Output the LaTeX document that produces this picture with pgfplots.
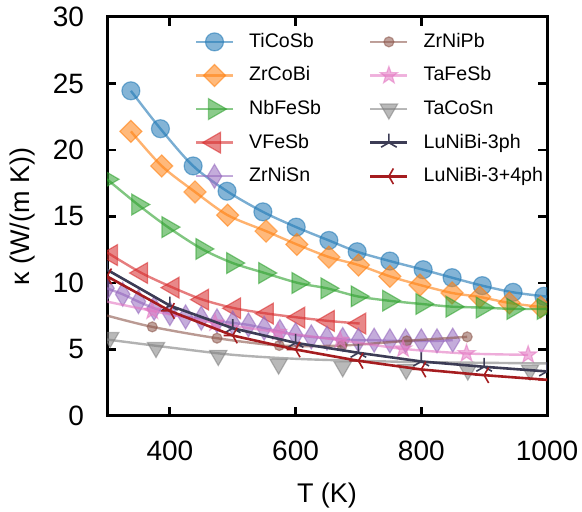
\documentclass[border=0pt]{standalone}
\usepackage{pgfplots}
\pgfplotsset{compat=1.18}
\usepackage{fontspec}
\setmainfont{Liberation Sans}
\definecolor{cB}{HTML}{1F77B4}
\definecolor{cO}{HTML}{FF7F0E}
\definecolor{cG}{HTML}{2CA02C}
\definecolor{cR}{HTML}{D62728}
\definecolor{cP}{HTML}{9467BD}
\definecolor{cBr}{HTML}{8C564B}
\definecolor{cPk}{HTML}{E377C2}
\definecolor{cGy}{HTML}{7F7F7F}
\definecolor{cD}{HTML}{3C3C55}
\definecolor{cDR}{HTML}{A51C1F}
\pgfdeclareplotmark{fstar}{%
 \pgfpathmoveto{\pgfpointpolar{90}{\pgfplotmarksize}}%
 \pgfpathlineto{\pgfpointpolar{126}{0.4\pgfplotmarksize}}%
 \pgfpathlineto{\pgfpointpolar{162}{\pgfplotmarksize}}%
 \pgfpathlineto{\pgfpointpolar{198}{0.4\pgfplotmarksize}}%
 \pgfpathlineto{\pgfpointpolar{234}{\pgfplotmarksize}}%
 \pgfpathlineto{\pgfpointpolar{270}{0.4\pgfplotmarksize}}%
 \pgfpathlineto{\pgfpointpolar{306}{\pgfplotmarksize}}%
 \pgfpathlineto{\pgfpointpolar{342}{0.4\pgfplotmarksize}}%
 \pgfpathlineto{\pgfpointpolar{18}{\pgfplotmarksize}}%
 \pgfpathlineto{\pgfpointpolar{54}{0.4\pgfplotmarksize}}%
 \pgfpathclose
 \pgfusepathqfillstroke}
\pgfplotsset{
  ln/.style={draw=#1, line width=1.2pt, draw opacity=0.6, smooth, no markers, forget plot},
  mk/.style={draw=#1, fill=#1, opacity=0.55, only marks, forget plot},
  lg/.style={draw=#1, fill=#1, opacity=0.55, line width=1.2pt},
}
\begin{document}
\begin{tikzpicture}
\useasboundingbox (-53.5pt,-48pt) rectangle (237.5pt,208pt);
\begin{axis}[
 scale only axis, width=220pt, height=199.5pt,
 xmin=300, xmax=1000, ymin=0, ymax=30,
 xtick={400,600,800,1000}, ytick={0,5,...,30},
 tick align=inside, major tick length=4.5pt,
 every tick/.style={black, line width=1.4pt},
 axis line style={line width=1.5pt},
 tick label style={font=\fontsize{14}{16}\selectfont},
 /pgf/number format/assume math mode=true,
 /pgf/number format/1000 sep={},
 xticklabel style={yshift=-9pt},
 yticklabel style={xshift=-8pt},
 xlabel={T (K)}, ylabel={κ (W/(m K))},
 xlabel style={font=\fontsize{13.5}{16}\selectfont, at={(axis description cs:0.5,-0.2)}, anchor=center},
 ylabel style={font=\fontsize{13.5}{16}\selectfont, at={(axis description cs:-0.193,0.5)}, anchor=center},
 clip marker paths=true,
 legend columns=2,
 legend cell align=left,
 legend image code/.code={\draw[mark repeat=2,mark phase=2] plot coordinates {(0pt,0pt) (9.25pt,0pt) (18.5pt,0pt)};},
 legend style={draw=none, fill=none, at={(rel axis cs:0.185,0.98)}, anchor=north west,
   font=\fontsize{9.8}{11}\selectfont,
   nodes={inner sep=1pt, text height=8pt, text depth=2.5pt},
   row sep=4.3pt,
   /tikz/every odd column/.append style={column sep=6.5pt},
   /tikz/every even column/.append style={column sep=23pt}},
]
% TiCoSb
\addplot[ln=cB] coordinates {(338,24.45) (385,21.6) (437,18.8) (491,16.9) (548,15.35) (601,14.2) (653,13.2) (698,12.35) (750,11.65) (803,11.0) (849,10.4) (897,9.8) (946,9.3) (995,9.0) (1000,8.98)};
\addplot[mk=cB, mark=*, mark size=4.5pt, mark options={line width=0.6pt}] coordinates {(338,24.45) (385,21.6) (437,18.8) (491,16.9) (548,15.35) (601,14.2) (653,13.2) (698,12.35) (750,11.65) (803,11.0) (849,10.4) (897,9.8) (946,9.3) (995,9.0)};
% ZrCoBi
\addplot[ln=cO] coordinates {(338,21.4) (387,18.8) (440,16.85) (492,15.1) (553,13.9) (602,12.9) (653,11.95) (700,11.35) (750,10.5) (798,9.85) (849,9.25) (893,8.95) (940,8.5) (990,8.2) (1000,8.18)};
\addplot[mk=cO, mark=square*, mark size=3.9pt, mark options={rotate=45, line width=0.6pt}] coordinates {(338,21.4) (387,18.8) (440,16.85) (492,15.1) (553,13.9) (602,12.9) (653,11.95) (700,11.35) (750,10.5) (798,9.85) (849,9.25) (893,8.95) (940,8.5) (990,8.2)};
% NbFeSb
\addplot[ln=cG] coordinates {(300,17.8) (349,15.9) (397,14.2) (451,12.56) (500,11.5) (551,10.75) (604,10.0) (650,9.6) (698,9.0) (748,8.67) (801,8.42) (849,8.22) (897,8.15) (946,8.05) (1000,8.05)};
\addplot[mk=cG, mark=triangle*, mark size=6pt, mark options={rotate=-90, line width=0.6pt}] coordinates {(300,17.8) (349,15.9) (397,14.2) (451,12.56) (500,11.5) (551,10.75) (604,10.0) (650,9.6) (698,9.0) (748,8.67) (801,8.42) (849,8.22) (897,8.15) (946,8.05) (994,8.05)};
% VFeSb
\addplot[ln=cR] coordinates {(300,12.3) (355,10.75) (405,9.65) (452,8.75) (503,8.1) (555,7.7) (605,7.4) (652,7.15) (702,6.95)};
\addplot[mk=cR, mark=triangle*, mark size=6pt, mark options={rotate=90, line width=0.6pt}] coordinates {(307,12.1) (355,10.75) (405,9.65) (452,8.75) (503,8.1) (555,7.7) (605,7.4) (652,7.15) (702,6.95)};
% ZrNiSn
\addplot[ln=cP] coordinates {(300,9.6) (325,9.15) (350,8.6) (375,8.1) (400,7.7) (425,7.45) (450,7.35) (475,7.15) (500,7.0) (525,6.85) (550,6.6) (575,6.35) (600,6.1) (625,5.95) (650,5.85) (675,5.75) (700,5.7) (725,5.7) (750,5.65) (775,5.65) (800,5.65) (825,5.65) (850,5.7)};
\addplot[mk=cP, mark=diamond*, mark size=6pt, mark options={xscale=0.8, line width=0.6pt}] coordinates {(300,9.6) (325,9.15) (350,8.6) (375,8.1) (400,7.7) (425,7.45) (450,7.35) (475,7.15) (500,7.0) (525,6.85) (550,6.6) (575,6.35) (600,6.1) (625,5.95) (650,5.85) (675,5.75) (700,5.7) (725,5.7) (750,5.65) (775,5.65) (800,5.65) (825,5.65) (850,5.7)};
% ZrNiPb
\addplot[ln=cBr] coordinates {(300,7.55) (372,6.7) (475,5.85) (574,5.3) (674,5.3) (777,5.65) (873,5.95)};
\addplot[mk=cBr, mark=*, mark size=2.5pt, mark options={line width=0.6pt}] coordinates {(372,6.7) (475,5.85) (574,5.3) (674,5.3) (777,5.65) (873,5.95)};
% TaFeSb
\addplot[ln=cPk] coordinates {(300,8.6) (372,7.9) (472,7.0) (572,6.3) (671,5.7) (771,5.05) (872,4.7) (970,4.6)};
\addplot[mk=cPk, mark=fstar, mark size=4.5pt, mark options={line width=0.6pt}] coordinates {(372,7.9) (472,7.0) (572,6.3) (671,5.7) (771,5.05) (872,4.7) (970,4.6)};
% TaCoSn
\addplot[ln=cGy] coordinates {(300,5.75) (400,5.15) (500,4.6) (600,4.3) (700,4.15) (800,4.05) (900,4.0) (1000,3.95)};
\addplot[mk=cGy, mark=triangle*, mark size=5pt, mark options={rotate=180, line width=0.6pt}] coordinates {(305,5.9) (378,5.15) (477,4.55) (573,3.9) (675,3.7) (776,3.5) (874,3.45) (973,3.45)};
% LuNiBi-3ph
\addplot[draw=cD, line width=1.3pt, mark=Mercedes star, mark size=4.5pt, mark options={line width=0.8pt}, forget plot] coordinates {(300,11.0) (400,8.3) (500,6.6) (600,5.5) (700,4.75) (800,4.1) (900,3.7) (1000,3.35)};
% LuNiBi-3+4ph
\addplot[draw=cDR, line width=1.3pt, mark=Mercedes star, mark size=4.5pt, mark options={rotate=90, line width=0.8pt}, forget plot] coordinates {(300,10.5) (400,7.9) (500,6.05) (600,5.0) (700,4.15) (800,3.5) (900,3.07) (1000,2.72)};
% legend
\addlegendimage{lg=cB, mark=*, mark size=4.5pt, mark options={line width=0.6pt}}
\addlegendentry{TiCoSb}
\addlegendimage{lg=cBr, mark=*, mark size=2.5pt, mark options={line width=0.6pt}}
\addlegendentry{ZrNiPb}
\addlegendimage{lg=cO, mark=square*, mark size=3.9pt, mark options={rotate=45, line width=0.6pt}}
\addlegendentry{ZrCoBi}
\addlegendimage{lg=cPk, mark=fstar, mark size=4.5pt, mark options={line width=0.6pt}}
\addlegendentry{TaFeSb}
\addlegendimage{lg=cG, mark=triangle*, mark size=6pt, mark options={rotate=-90, line width=0.6pt}}
\addlegendentry{NbFeSb}
\addlegendimage{lg=cGy, mark=triangle*, mark size=5pt, mark options={rotate=180, line width=0.6pt}}
\addlegendentry{TaCoSn}
\addlegendimage{lg=cR, mark=triangle*, mark size=6pt, mark options={rotate=90, line width=0.6pt}}
\addlegendentry{VFeSb}
\addlegendimage{draw=cD, line width=1.3pt, mark=Mercedes star, mark size=4.5pt, mark options={line width=0.8pt}}
\addlegendentry{LuNiBi-3ph}
\addlegendimage{lg=cP, mark=diamond*, mark size=6pt, mark options={xscale=0.8, line width=0.6pt}}
\addlegendentry{ZrNiSn}
\addlegendimage{draw=cDR, line width=1.3pt, mark=Mercedes star, mark size=4.5pt, mark options={rotate=90, line width=0.8pt}}
\addlegendentry{LuNiBi-3+4ph}
\end{axis}
\end{tikzpicture}
\end{document}
